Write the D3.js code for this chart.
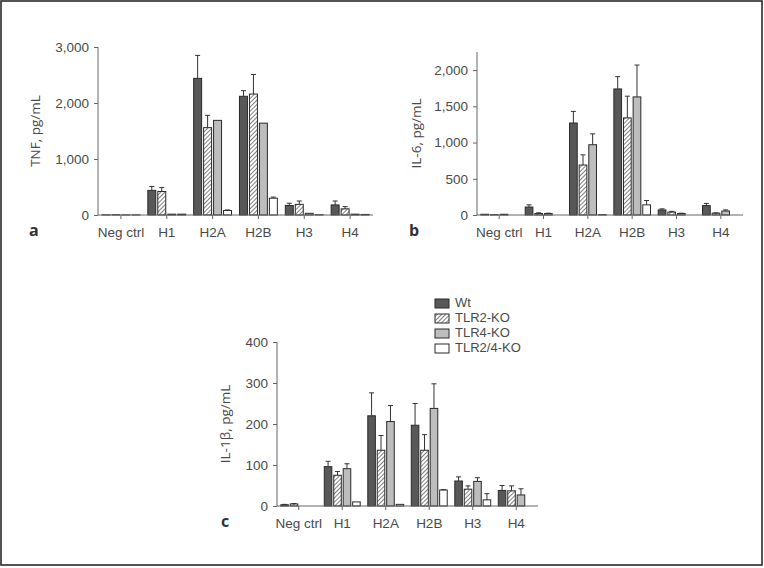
<!DOCTYPE html>
<html><head><meta charset="utf-8">
<script src="https://cdn.jsdelivr.net/npm/d3@7/dist/d3.min.js"></script>
<style>
body{margin:0;background:#fff;}
svg{display:block;font-family:"Open Sans","Noto Sans",sans-serif;}
</style></head>
<body>
<svg id="chart" width="764" height="568"></svg>
<script>
const categories = ["Neg ctrl","H1","H2A","H2B","H3","H4"];
const seriesNames = ["Wt","TLR2-KO","TLR4-KO","TLR2/4-KO"];

// Panel a: TNF (pg/mL), rows = series, cols = categories
const tnfWt    = [3, 440, 2440, 2120, 170, 180];
const tnfTlr2  = [5, 420, 1560, 2160, 190, 110];
const tnfTlr4  = [2, 15, 1690, 1640, 30, 15];
const tnfDko   = [2, 15, 80, 300, 5, 10];
const tnfWtErr   = [0, 70, 410, 100, 40, 70];
const tnfTlr2Err = [0, 70, 220, 350, 60, 40];
const tnfTlr4Err = [0, 0, 0, 0, 0, 0];
const tnfDkoErr  = [0, 0, 10, 20, 0, 0];
const tnfTicks = [0, 1000, 2000, 3000];

// Panel b: IL-6 (pg/mL)
const il6Wt    = [10, 110, 1270, 1740, 70, 130];
const il6Tlr2  = [5, 20, 690, 1340, 40, 25];
const il6Tlr4  = [10, 20, 970, 1630, 20, 55];
const il6Dko   = [0, 0, 5, 140, 0, 0];
const il6WtErr   = [0, 30, 160, 170, 15, 30];
const il6Tlr2Err = [0, 10, 140, 300, 10, 5];
const il6Tlr4Err = [0, 5, 150, 440, 5, 15];
const il6DkoErr  = [0, 0, 0, 60, 0, 0];
const il6Ticks = [0, 500, 1000, 1500, 2000];

// Panel c: IL-1β (pg/mL)
const il1Wt    = [3, 96, 220, 197, 61, 38];
const il1Tlr2  = [5, 75, 136, 136, 41, 37];
const il1Tlr4  = [0, 91, 206, 238, 60, 27];
const il1Dko   = [0, 10, 4, 39, 15, 0];
const il1WtErr   = [1, 13, 56, 53, 10, 12];
const il1Tlr2Err = [1, 9, 36, 38, 8, 12];
const il1Tlr4Err = [0, 12, 39, 60, 9, 15];
const il1DkoErr  = [0, 0, 0, 1, 15, 0];
const il1Ticks = [0, 100, 200, 300, 400];

const svg = d3.select("#chart");
const defs = svg.append("defs");
const pat = defs.append("pattern").attr("id","hatch").attr("patternUnits","userSpaceOnUse")
  .attr("width",3).attr("height",3).attr("patternTransform","rotate(45)");
pat.append("rect").attr("width",3).attr("height",3).attr("fill","#fff");
pat.append("line").attr("x1",0).attr("y1",0).attr("x2",0).attr("y2",3)
  .attr("stroke","#4a4a4a").attr("stroke-width",1.4);

const fills = ["#585858","url(#hatch)","#bdbdbd","#ffffff"];
const textCol = "#4a4a4a";
const axisCol = "#666";

// frame
svg.append("rect").attr("x",1).attr("y",1).attr("width",761).attr("height",564)
  .attr("fill","none").attr("stroke","#2a2a2a").attr("stroke-width",1.6);

function panel(opt){
  const g = svg.append("g");
  const x0 = d3.scaleBand().domain(categories).range([opt.x0, opt.x1]);
  const x1 = d3.scaleBand().domain(seriesNames).range([0, x0.bandwidth()]).paddingInner(0.2).paddingOuter(0.4);
  const y = d3.scaleLinear().domain([0, opt.ymax]).range([opt.yb, opt.yt]);

  // y axis
  const ya = d3.axisLeft(y).tickValues(opt.ticks).tickSize(4).tickPadding(5)
    .tickFormat(d3.format(","));
  const yg = g.append("g").attr("transform",`translate(${opt.x0},0)`).call(ya);
  yg.select(".domain").attr("stroke",axisCol).attr("d",`M-0,${opt.yt}V${opt.yb}`);
  yg.selectAll(".tick line").attr("stroke",axisCol);
  yg.selectAll(".tick text").attr("fill",textCol).attr("font-size",13.5);

  // bars
  const data = opt.values;
  data.forEach((vals, si) => {
    const errs = opt.errs[si];
    const sg = g.append("g");
    sg.selectAll("rect").data(categories.map((c,i)=>({c, v: vals[i], e: errs[i]})))
      .join("rect")
      .attr("x", d => x0(d.c) + x1(seriesNames[si]))
      .attr("width", x1.bandwidth())
      .attr("y", d => y(d.v))
      .attr("height", d => Math.max(0, y(0) - y(d.v)))
      .attr("fill", fills[si])
      .attr("stroke","#2a2a2a").attr("stroke-width",1);
    const eg = sg.selectAll("g.err").data(categories.map((c,i)=>({c, v: vals[i], e: errs[i]})).filter(d=>d.e>0))
      .join("g");
    eg.append("line")
      .attr("x1", d => x0(d.c) + x1(seriesNames[si]) + x1.bandwidth()/2)
      .attr("x2", d => x0(d.c) + x1(seriesNames[si]) + x1.bandwidth()/2)
      .attr("y1", d => y(d.v)).attr("y2", d => y(d.v + d.e))
      .attr("stroke","#333").attr("stroke-width",1);
    eg.append("line")
      .attr("x1", d => x0(d.c) + x1(seriesNames[si]) + x1.bandwidth()/2 - 2.5)
      .attr("x2", d => x0(d.c) + x1(seriesNames[si]) + x1.bandwidth()/2 + 2.5)
      .attr("y1", d => y(d.v + d.e)).attr("y2", d => y(d.v + d.e))
      .attr("stroke","#333").attr("stroke-width",1);
  });

  // x axis
  const xa = d3.axisBottom(x0).tickSize(4).tickPadding(8);
  const xg = g.append("g").attr("transform",`translate(0,${opt.yb})`).call(xa);
  xg.select(".domain").attr("stroke",axisCol).attr("d",`M${opt.x0},0H${opt.x1}`);
  xg.selectAll(".tick line").attr("stroke",axisCol);
  xg.selectAll(".tick text").attr("fill",textCol).attr("font-size",13.5);

  // y title
  g.append("text").attr("transform",`translate(${opt.titleX},${(opt.yt+opt.yb)/2}) rotate(-90)`)
    .attr("text-anchor","middle").attr("dominant-baseline","middle")
    .attr("fill",textCol).attr("font-size",13.5).text(opt.title);
  // panel letter
  g.append("text").attr("x",opt.letterX).attr("y",opt.yb+21)
    .attr("fill","#333").attr("font-size",16).attr("font-weight","bold").text(opt.letter);
}

panel({x0:98, x1:373, yb:215, yt:47, ymax:3000, ticks:tnfTicks,
  values:[tnfWt,tnfTlr2,tnfTlr4,tnfDko], errs:[tnfWtErr,tnfTlr2Err,tnfTlr4Err,tnfDkoErr],
  title:"TNF, pg/mL", titleX:36, letter:"a", letterX:29});
panel({x0:477, x1:743, yb:215, yt:52, ymax:2250, ticks:il6Ticks,
  values:[il6Wt,il6Tlr2,il6Tlr4,il6Dko], errs:[il6WtErr,il6Tlr2Err,il6Tlr4Err,il6DkoErr],
  title:"IL-6, pg/mL", titleX:417, letter:"b", letterX:409});
panel({x0:277, x1:538, yb:506, yt:342, ymax:400, ticks:il1Ticks,
  values:[il1Wt,il1Tlr2,il1Tlr4,il1Dko], errs:[il1WtErr,il1Tlr2Err,il1Tlr4Err,il1DkoErr],
  title:"IL-1β, pg/mL", titleX:226, letter:"c", letterX:221});

// legend
const lg = svg.append("g");
seriesNames.forEach((s,i) => {
  const yy = 304 + i*15;
  lg.append("rect").attr("x",435).attr("y",yy-5).attr("width",14).attr("height",9)
    .attr("fill",fills[i]).attr("stroke","#2a2a2a").attr("stroke-width",1);
  lg.append("text").attr("x",455).attr("y",yy).attr("dominant-baseline","middle")
    .attr("font-family","'Liberation Sans',Arial,sans-serif")
    .attr("fill",textCol).attr("font-size",13).text(s);
});
</script>
</body></html>
